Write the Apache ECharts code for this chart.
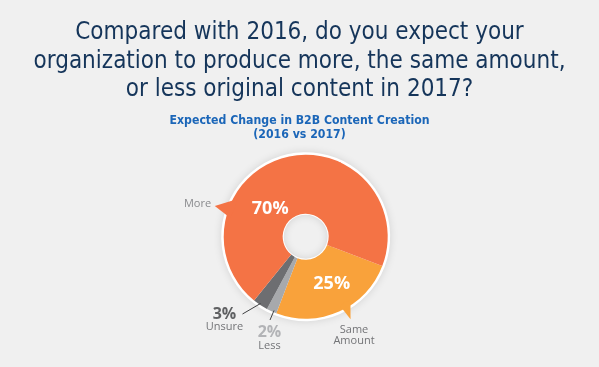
<!DOCTYPE html>
<html>
<head>
<meta charset="utf-8">
<script src="https://cdn.jsdelivr.net/npm/echarts@6/dist/echarts.min.js"></script>
<style>
html,body{margin:0;padding:0;background:#f0f0f0;}
#chart{width:599px;height:367px;}
</style>
</head>
<body>
<div id="chart"></div>
<script>
// ---- data ----
var categories = ['Same Amount', 'Less', 'Unsure', 'More'];
var values = [25, 2, 3, 70];
var nameLabels = ['Same\nAmount', 'Less', 'Unsure', 'More'];
var titleText = 'Compared with 2016, do you expect your\norganization to produce more, the same amount,\nor less original content in 2017?';
var subText = 'Expected Change in B2B Content Creation\n(2016 vs 2017)';

// ---- styling / layout ----
var colors = ['#F9A23B', '#A7A9AC', '#6D6E71', '#F47345'];
var CX = 305.7, CY = 236.7, R = 82, RIN = 23;
var START = -21;
var pctLabelPos = { 0: [331.7, 284.3], 3: [270.2, 209] };
var nameLabelPos = { 0: [354, 335], 1: [269.5, 338], 2: [224.5, 320], 3: [197.5, 204] };
var lineFrom = { 1: [274, 310.5], 2: [260.5, 303.5] };
var lineTo = { 1: [270, 320], 2: [242.5, 314] };

var chart = echarts.init(document.getElementById('chart'));

function pt(deg, r) {
  var a = deg * Math.PI / 180;
  return [CX + r * Math.cos(a), CY + r * Math.sin(a)];
}
function tail(a1, a2, tipA, tipR, color) {
  return {
    type: 'polygon', z: 100, silent: true,
    shape: { points: [pt(a1, R - 4), pt(tipA, tipR), pt(a2, R - 4), pt((a1 + a2) / 2, R - 6)] },
    style: { fill: color }
  };
}

var data = categories.map(function (c, i) {
  return { name: c, value: values[i], itemStyle: { color: colors[i] } };
});

var overlayData = categories.map(function (c, i) {
  var isLine = (i === 1 || i === 2);
  return {
    name: c, value: values[i],
    labelLine: { show: isLine }
  };
});

function nameFormatter(p) {
  var i = p.dataIndex;
  if (i === 2) return '{pb|' + values[i] + '%}\n{n|' + nameLabels[i] + '}';
  if (i === 1) return '{pl|' + values[i] + '%}\n{n|' + nameLabels[i] + '}';
  if (i === 0) return '{n2|Same}\n{n2|Amount}';
  return '{nm|' + nameLabels[i] + '}';
}

var option = {
  backgroundColor: '#f0f0f0',
  animation: false,
  title: [
    {
      text: titleText, left: 'center', top: 14,
      textStyle: { fontFamily: 'DejaVu Sans Condensed', fontWeight: 'normal', fontSize: 24, lineHeight: 28.5, color: '#15355a', align: 'center' }
    },
    {
      text: subText, left: 'center', top: 108.5,
      textStyle: { fontFamily: 'DejaVu Sans Condensed', fontWeight: 'bold', fontSize: 12.2, lineHeight: 14, color: '#1b66b8', align: 'center' }
    }
  ],
  graphic: [
    tail(194, 209, 198.7, 96, colors[3]),
    tail(55, 63.5, 61.5, 94, colors[0])
  ],
  series: [
    {
      type: 'pie', silent: true, center: [CX, CY], radius: [RIN - 1, R + 2.5],
      startAngle: START, z: 1,
      label: { show: false }, labelLine: { show: false },
      itemStyle: { color: '#ffffff', shadowBlur: 8, shadowColor: 'rgba(0,0,0,0.12)' },
      data: [{ name: 'ring', value: 1 }]
    },
    {
      type: 'pie', silent: true, center: [CX, CY], radius: [RIN, R],
      startAngle: START, clockwise: true, z: 2,
      itemStyle: { borderWidth: 0 },
      label: {
        show: true, position: 'inside',
        formatter: function (p) { return (p.dataIndex === 0 || p.dataIndex === 3) ? p.value + '%' : ''; },
        color: '#ffffff', fontFamily: 'Open Sans', fontWeight: 'bold', fontSize: 18
      },
      labelLayout: function (p) {
        var pos = pctLabelPos[p.dataIndex];
        if (!pos) return {};
        return { x: pos[0], y: pos[1], align: 'center', verticalAlign: 'middle' };
      },
      data: data
    },
    {
      type: 'pie', silent: true, center: [CX, CY], radius: [RIN, R],
      startAngle: START, clockwise: true, z: 3,
      itemStyle: { color: 'rgba(0,0,0,0)', borderWidth: 0 },
      label: {
        show: true, position: 'outside', formatter: nameFormatter,
        fontFamily: 'Open Sans', align: 'center',
        rich: {
          pb: { fontFamily: 'Open Sans', fontWeight: 'bold', fontSize: 16, lineHeight: 14, color: '#5f6062', align: 'center' },
          pl: { fontFamily: 'Open Sans', fontWeight: 'bold', fontSize: 16, lineHeight: 15, color: '#b2b3b6', align: 'center' },
          n: { fontFamily: 'Open Sans', fontSize: 11, lineHeight: 11, color: '#737477', align: 'center' },
          n2: { fontFamily: 'Open Sans', fontSize: 11, lineHeight: 11, color: '#737477', align: 'center' },
          nm: { fontFamily: 'Open Sans', fontSize: 11, color: '#8a8b8e', align: 'center' }
        }
      },
      labelLine: { show: true, smooth: false, lineStyle: { color: '#3f4042', width: 1 } },
      labelLayout: function (p) {
        var i = p.dataIndex;
        var pos = nameLabelPos[i];
        var o = { x: pos[0], y: pos[1], align: 'center', verticalAlign: 'middle' };
        if (lineFrom[i]) o.labelLinePoints = [lineFrom[i], lineTo[i], lineTo[i]];
        return o;
      },
      data: overlayData
    }
  ]
};
chart.setOption(option);
</script>
</body>
</html>
